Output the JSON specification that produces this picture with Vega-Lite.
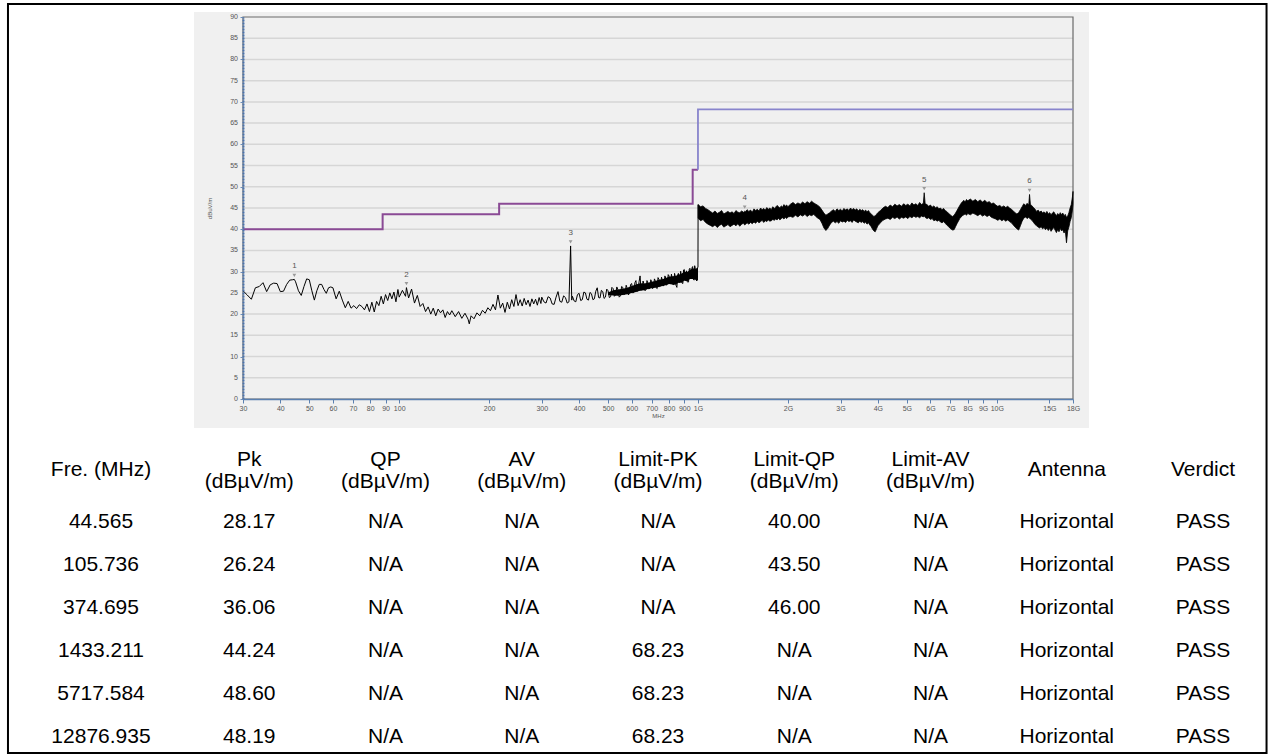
{
  "$schema": "https://vega.github.io/schema/vega-lite/v6.json",
  "background": "white",
  "padding": {"left": 6, "top": 3, "right": 0, "bottom": 0},
  "bounds": "flush",
  "center": true,
  "spacing": 80,
  "config": {"view": {"stroke": null}, "font": "Liberation Sans"},
  "datasets": {
    "grid": [{"v":5},{"v":10},{"v":15},{"v":20},{"v":25},{"v":30},{"v":35},{"v":40},{"v":45},{"v":50},{"v":55},{"v":60},{"v":65},{"v":70},{"v":75},{"v":80},{"v":85}],
    "yticks": [{"v":0},{"v":5},{"v":10},{"v":15},{"v":20},{"v":25},{"v":30},{"v":35},{"v":40},{"v":45},{"v":50},{"v":55},{"v":60},{"v":65},{"v":70},{"v":75},{"v":80},{"v":85},{"v":90}],
    "limqp": [{"f":30,"v":40},{"f":88,"v":43.5},{"f":216,"v":46},{"f":960,"v":54},{"f":1000,"v":54}],
    "limpk": [{"f":1000,"v":54},{"f":18000,"v":68.23}],
    "peaks": [{"id":"1","f":44.565,"v":28.17},{"id":"2","f":105.736,"v":26.24},{"id":"3","f":374.695,"v":36.06},{"id":"4","f":1433.211,"v":44.24},{"id":"5","f":5717.584,"v":48.6},{"id":"6","f":12876.935,"v":48.19}],
    "trace": [
      {"f":30,"v":25.5},{"f":31,"v":24.5},{"f":32,"v":23.5},{"f":33,"v":26.2},{"f":34,"v":26.5},{"f":35,"v":27.4},{"f":36,"v":25.3},{"f":37,"v":26.9},{"f":38,"v":27.3},{"f":39,"v":27.2},
      {"f":40,"v":25.3},{"f":41,"v":25.4},{"f":42,"v":27.0},{"f":43,"v":28.0},{"f":44,"v":28.1},{"f":44.565,"v":28.17},{"f":45,"v":27.6},{"f":46,"v":25.5},{"f":47,"v":24.4},{"f":48,"v":26.5},
      {"f":49,"v":28.3},{"f":50,"v":28.1},{"f":51,"v":25.5},{"f":52,"v":23.3},{"f":53,"v":25.5},{"f":54,"v":27.0},{"f":55,"v":27.0},{"f":56,"v":25.8},{"f":57,"v":24.9},{"f":58,"v":26.2},
      {"f":59,"v":26.4},{"f":60,"v":26.2},{"f":61.5,"v":23.6},{"f":63,"v":25.4},{"f":64.5,"v":23.3},{"f":66,"v":21.5},{"f":67.5,"v":23.0},{"f":69,"v":21.4},{"f":70.5,"v":22.0},{"f":72,"v":21.3},
      {"f":73.5,"v":22.2},{"f":75,"v":21.8},{"f":76.5,"v":21.0},{"f":78,"v":22.4},{"f":79.5,"v":20.6},{"f":81,"v":22.8},{"f":82.5,"v":20.5},{"f":84,"v":23.0},{"f":85.5,"v":22.0},{"f":87,"v":24.2},
      {"f":88.5,"v":22.4},{"f":90,"v":24.6},{"f":91.5,"v":23.2},{"f":93,"v":25.0},{"f":94.5,"v":23.6},{"f":96,"v":25.2},{"f":97.5,"v":22.9},{"f":99,"v":25.8},{"f":100,"v":24.0},{"f":102.5,"v":25.6},
      {"f":105,"v":24.2},{"f":105.736,"v":26.24},{"f":107.5,"v":23.8},{"f":110,"v":25.9},{"f":112.5,"v":22.6},{"f":115,"v":24.4},{"f":117.5,"v":21.8},{"f":120,"v":22.5},{"f":122.5,"v":20.6},{"f":125,"v":21.7},
      {"f":127.5,"v":20.0},{"f":130,"v":21.4},{"f":132.5,"v":19.6},{"f":135,"v":21.2},{"f":137.5,"v":20.3},{"f":140,"v":21.0},{"f":142.5,"v":19.2},{"f":145,"v":20.6},{"f":147.5,"v":19.8},{"f":150,"v":20.8},
      {"f":154,"v":19.4},{"f":158,"v":20.6},{"f":162,"v":19.0},{"f":166,"v":20.2},{"f":170,"v":18.8},{"f":171.6,"v":17.7},{"f":174,"v":19.6},{"f":178,"v":18.9},{"f":182,"v":20.3},{"f":186,"v":19.6},
      {"f":190,"v":20.9},{"f":194,"v":20.2},{"f":198,"v":21.5},{"f":202,"v":20.8},{"f":206,"v":22.3},{"f":210,"v":21.0},{"f":214,"v":24.5},{"f":218,"v":21.4},{"f":222,"v":22.6},{"f":226,"v":20.4},
      {"f":230,"v":22.8},{"f":234,"v":21.2},{"f":238,"v":23.4},{"f":242,"v":21.8},{"f":246,"v":24.6},{"f":250,"v":22.0},{"f":254,"v":23.4},{"f":258,"v":21.9},{"f":262,"v":23.7},{"f":266,"v":22.2},
      {"f":270,"v":23.3},{"f":274,"v":21.8},{"f":278,"v":23.6},{"f":282,"v":22.4},{"f":286,"v":23.5},{"f":290,"v":22.1},{"f":294,"v":23.9},{"f":298,"v":22.5},{"f":300,"v":24.0},{"f":305,"v":22.9},
      {"f":310,"v":22.6},{"f":315,"v":24.1},{"f":320,"v":23.8},{"f":325,"v":22.4},{"f":330,"v":22.3},{"f":335,"v":24.0},{"f":340,"v":25.3},{"f":345,"v":23.0},{"f":350,"v":22.8},{"f":355,"v":24.3},
      {"f":360,"v":23.9},{"f":365,"v":22.6},{"f":370,"v":22.9},{"f":374.695,"v":36.06},{"f":378,"v":23.3},{"f":380,"v":24.2},{"f":385,"v":23.1},{"f":390,"v":22.9},{"f":395,"v":24.6},{"f":400,"v":24.9},
      {"f":405,"v":23.2},{"f":410,"v":23.4},{"f":415,"v":25.2},{"f":420,"v":25.0},{"f":425,"v":23.5},{"f":430,"v":23.3},{"f":435,"v":25.1},{"f":440,"v":24.8},{"f":445,"v":23.4},{"f":450,"v":23.6},
      {"f":455,"v":25.4},{"f":460,"v":26.2},{"f":465,"v":23.9},{"f":470,"v":23.8},{"f":475,"v":25.6},{"f":480,"v":25.3},{"f":485,"v":23.7},{"f":490,"v":24.0},{"f":495,"v":25.9},{"f":500,"v":25.5},
      {"f":505,"v":23.9},{"f":510,"v":24.1},{"f":515,"v":26.3},{"f":520,"v":26.0},{"f":525,"v":24.2},{"f":530,"v":24.5},{"f":535,"v":26.4},{"f":540,"v":25.7},{"f":545,"v":24.0},{"f":550,"v":24.3},
      {"f":555,"v":26.5},{"f":560,"v":26.3},{"f":565,"v":24.6},{"f":570,"v":24.8},{"f":575,"v":26.8},{"f":580,"v":26.0},{"f":585,"v":24.5},{"f":590,"v":25.0},{"f":595,"v":27.0},{"f":600,"v":27.2},
      {"f":605,"v":25.0},{"f":610,"v":25.1},{"f":615,"v":27.4},{"f":620,"v":27.9},{"f":625,"v":25.3},{"f":630,"v":25.6},{"f":635,"v":27.6},{"f":640,"v":29.0},{"f":645,"v":25.6},{"f":650,"v":25.9},
      {"f":655,"v":27.8},{"f":660,"v":27.0},{"f":665,"v":25.5},{"f":670,"v":25.8},{"f":675,"v":27.9},{"f":680,"v":27.3},{"f":685,"v":25.9},{"f":690,"v":26.1},{"f":695,"v":28.1},{"f":700,"v":27.6},
      {"f":705,"v":26.0},{"f":710,"v":26.4},{"f":715,"v":28.3},{"f":720,"v":27.8},{"f":725,"v":26.2},{"f":730,"v":26.0},{"f":735,"v":28.6},{"f":740,"v":28.2},{"f":745,"v":26.5},{"f":750,"v":26.7},
      {"f":755,"v":28.7},{"f":760,"v":28.0},{"f":765,"v":26.6},{"f":770,"v":26.9},{"f":775,"v":29.0},{"f":780,"v":28.5},{"f":785,"v":26.8},{"f":790,"v":27.2},{"f":795,"v":29.3},{"f":800,"v":29.0},
      {"f":805,"v":27.1},{"f":810,"v":27.4},{"f":815,"v":29.4},{"f":820,"v":28.4},{"f":825,"v":26.9},{"f":830,"v":27.0},{"f":835,"v":29.6},{"f":840,"v":28.8},{"f":845,"v":26.7},{"f":850,"v":26.3},
      {"f":855,"v":29.2},{"f":860,"v":29.6},{"f":865,"v":27.4},{"f":870,"v":27.8},{"f":875,"v":30.1},{"f":880,"v":29.0},{"f":885,"v":27.3},{"f":890,"v":27.2},{"f":895,"v":30.4},{"f":900,"v":30.5},
      {"f":905,"v":27.9},{"f":910,"v":28.1},{"f":915,"v":30.2},{"f":920,"v":29.4},{"f":925,"v":27.5},{"f":930,"v":27.6},{"f":935,"v":30.6},{"f":940,"v":30.8},{"f":945,"v":28.3},{"f":950,"v":28.5},
      {"f":955,"v":30.9},{"f":960,"v":31.2},{"f":965,"v":28.2},{"f":970,"v":28.0},{"f":975,"v":31.4},{"f":980,"v":30.6},{"f":985,"v":28.4},{"f":990,"v":27.8},{"f":995,"v":30.9},{"f":1000,"v":31.0},
      {"f":1001,"v":45.8}
    ],
    "band": [
      {"f":500,"hi":25.1,"lo":24.5},{"f":520,"hi":25.6,"lo":24.4},{"f":540,"hi":25.8,"lo":24.3},{"f":560,"hi":26.0,"lo":24.5},{"f":580,"hi":26.2,"lo":24.7},
      {"f":600,"hi":26.6,"lo":25.0},{"f":620,"hi":27.0,"lo":25.2},{"f":640,"hi":27.3,"lo":25.5},{"f":660,"hi":27.2,"lo":25.6},{"f":680,"hi":27.4,"lo":25.9},
      {"f":700,"hi":27.6,"lo":26.1},{"f":720,"hi":27.8,"lo":26.2},{"f":740,"hi":28.1,"lo":26.4},{"f":760,"hi":28.2,"lo":26.6},{"f":780,"hi":28.5,"lo":26.8},
      {"f":800,"hi":28.8,"lo":27.1},{"f":820,"hi":28.9,"lo":27.0},{"f":840,"hi":29.0,"lo":26.9},{"f":860,"hi":29.3,"lo":27.4},{"f":880,"hi":29.5,"lo":27.4},
      {"f":900,"hi":30.0,"lo":27.9},{"f":920,"hi":29.9,"lo":27.7},{"f":940,"hi":30.4,"lo":28.3},{"f":960,"hi":30.8,"lo":28.3},{"f":980,"hi":30.6,"lo":28.1},
      {"f":1000,"hi":31.0,"lo":27.9}
    ],
    "band2": [
      {"f":1001,"hi":45.8,"lo":42.6},{"f":1020,"hi":45.3,"lo":42.0},{"f":1040,"hi":45.5,"lo":42.3},{"f":1060,"hi":44.9,"lo":41.6},{"f":1080,"hi":44.6,"lo":41.2},
      {"f":1100,"hi":44.2,"lo":40.9},{"f":1120,"hi":43.8,"lo":40.6},{"f":1140,"hi":44.3,"lo":41.0},{"f":1160,"hi":43.7,"lo":40.4},{"f":1180,"hi":44.0,"lo":40.9},
      {"f":1200,"hi":44.4,"lo":41.2},{"f":1220,"hi":43.6,"lo":40.5},{"f":1240,"hi":43.9,"lo":40.8},{"f":1260,"hi":44.2,"lo":41.1},{"f":1280,"hi":43.8,"lo":40.6},
      {"f":1300,"hi":44.1,"lo":40.9},{"f":1320,"hi":43.7,"lo":41.2},{"f":1340,"hi":44.4,"lo":40.8},{"f":1360,"hi":44.0,"lo":41.3},{"f":1380,"hi":43.9,"lo":40.7},
      {"f":1400,"hi":44.3,"lo":41.2},{"f":1420,"hi":44.0,"lo":41.4},{"f":1433.211,"hi":44.24,"lo":41.0},{"f":1440,"hi":44.1,"lo":41.1},{"f":1460,"hi":44.6,"lo":41.5},
      {"f":1480,"hi":44.2,"lo":41.2},{"f":1500,"hi":44.5,"lo":41.6},{"f":1520,"hi":44.0,"lo":41.3},{"f":1540,"hi":44.8,"lo":41.7},{"f":1560,"hi":44.4,"lo":41.4},
      {"f":1580,"hi":44.7,"lo":41.9},{"f":1600,"hi":44.3,"lo":41.5},{"f":1620,"hi":45.0,"lo":41.8},{"f":1640,"hi":44.6,"lo":42.1},{"f":1660,"hi":44.9,"lo":41.6},
      {"f":1680,"hi":44.5,"lo":42.0},{"f":1700,"hi":45.1,"lo":41.8},{"f":1720,"hi":44.7,"lo":42.2},{"f":1740,"hi":45.0,"lo":41.9},{"f":1760,"hi":44.6,"lo":42.0},
      {"f":1780,"hi":45.3,"lo":42.3},{"f":1800,"hi":44.9,"lo":42.1},{"f":1820,"hi":45.2,"lo":42.4},{"f":1840,"hi":45.6,"lo":42.2},{"f":1860,"hi":45.3,"lo":42.6},
      {"f":1880,"hi":45.0,"lo":42.2},{"f":1900,"hi":45.5,"lo":42.5},{"f":1920,"hi":45.2,"lo":42.7},{"f":1940,"hi":45.8,"lo":42.4},{"f":1960,"hi":45.4,"lo":42.8},
      {"f":1980,"hi":45.7,"lo":42.5},{"f":2000,"hi":45.3,"lo":42.9},{"f":2040,"hi":45.9,"lo":43.0},{"f":2080,"hi":46.3,"lo":42.8},{"f":2120,"hi":45.8,"lo":43.3},
      {"f":2160,"hi":46.2,"lo":42.9},{"f":2200,"hi":45.9,"lo":43.4},{"f":2240,"hi":46.4,"lo":43.1},{"f":2280,"hi":46.0,"lo":43.5},{"f":2320,"hi":46.5,"lo":43.0},
      {"f":2360,"hi":46.1,"lo":43.4},{"f":2400,"hi":46.6,"lo":43.2},{"f":2440,"hi":46.2,"lo":43.5},{"f":2480,"hi":45.9,"lo":43.0},{"f":2520,"hi":45.6,"lo":42.6},
      {"f":2560,"hi":45.2,"lo":42.3},{"f":2600,"hi":44.5,"lo":41.4},{"f":2640,"hi":43.8,"lo":40.3},{"f":2680,"hi":43.3,"lo":39.7},{"f":2720,"hi":43.6,"lo":40.2},
      {"f":2760,"hi":43.9,"lo":41.0},{"f":2800,"hi":44.3,"lo":41.6},{"f":2840,"hi":44.6,"lo":41.9},{"f":2880,"hi":44.2,"lo":41.5},{"f":2920,"hi":44.8,"lo":41.8},
      {"f":2960,"hi":44.4,"lo":41.4},{"f":3000,"hi":44.7,"lo":42.0},{"f":3040,"hi":44.3,"lo":41.7},{"f":3080,"hi":44.9,"lo":41.9},{"f":3120,"hi":44.5,"lo":41.6},
      {"f":3160,"hi":44.8,"lo":42.1},{"f":3200,"hi":44.4,"lo":41.8},{"f":3240,"hi":45.0,"lo":42.0},{"f":3280,"hi":44.6,"lo":41.6},{"f":3320,"hi":44.9,"lo":42.2},
      {"f":3360,"hi":44.5,"lo":41.9},{"f":3400,"hi":44.8,"lo":41.7},{"f":3440,"hi":44.3,"lo":41.5},{"f":3480,"hi":44.7,"lo":41.9},{"f":3520,"hi":44.4,"lo":41.6},
      {"f":3560,"hi":44.6,"lo":41.8},{"f":3600,"hi":44.2,"lo":41.4},{"f":3640,"hi":44.5,"lo":41.7},{"f":3680,"hi":44.1,"lo":41.2},{"f":3720,"hi":44.4,"lo":41.5},
      {"f":3760,"hi":43.9,"lo":41.0},{"f":3800,"hi":43.6,"lo":40.6},{"f":3840,"hi":43.3,"lo":40.0},{"f":3880,"hi":43.0,"lo":39.6},{"f":3920,"hi":43.2,"lo":39.4},
      {"f":3960,"hi":43.5,"lo":40.1},{"f":4000,"hi":43.9,"lo":40.8},{"f":4080,"hi":44.4,"lo":41.5},{"f":4160,"hi":45.0,"lo":42.1},{"f":4240,"hi":45.4,"lo":42.4},
      {"f":4320,"hi":45.1,"lo":42.6},{"f":4400,"hi":45.7,"lo":42.3},{"f":4480,"hi":45.3,"lo":42.8},{"f":4560,"hi":45.9,"lo":42.5},{"f":4640,"hi":45.5,"lo":42.9},
      {"f":4720,"hi":45.8,"lo":42.4},{"f":4800,"hi":45.4,"lo":42.8},{"f":4880,"hi":46.0,"lo":42.6},{"f":4960,"hi":45.6,"lo":42.9},{"f":5040,"hi":45.9,"lo":42.5},
      {"f":5120,"hi":45.5,"lo":43.0},{"f":5200,"hi":46.2,"lo":42.7},{"f":5280,"hi":45.7,"lo":43.1},{"f":5360,"hi":46.0,"lo":42.8},{"f":5440,"hi":45.6,"lo":43.0},
      {"f":5520,"hi":46.3,"lo":42.7},{"f":5600,"hi":45.8,"lo":43.1},{"f":5680,"hi":46.1,"lo":42.9},{"f":5717.584,"hi":48.6,"lo":43.2},{"f":5760,"hi":46.0,"lo":42.8},
      {"f":5840,"hi":45.8,"lo":42.5},{"f":5920,"hi":45.4,"lo":42.7},{"f":6000,"hi":45.7,"lo":42.3},{"f":6080,"hi":45.2,"lo":42.5},{"f":6160,"hi":45.5,"lo":42.0},
      {"f":6240,"hi":45.0,"lo":42.2},{"f":6320,"hi":45.3,"lo":41.9},{"f":6400,"hi":44.8,"lo":42.1},{"f":6480,"hi":45.0,"lo":41.7},{"f":6560,"hi":44.6,"lo":41.5},
      {"f":6640,"hi":44.9,"lo":41.8},{"f":6720,"hi":44.4,"lo":41.4},{"f":6800,"hi":44.2,"lo":41.0},{"f":6880,"hi":43.8,"lo":40.7},{"f":6960,"hi":43.5,"lo":40.3},
      {"f":7040,"hi":43.2,"lo":40.0},{"f":7120,"hi":43.0,"lo":39.8},{"f":7200,"hi":43.3,"lo":39.9},{"f":7280,"hi":43.8,"lo":40.6},{"f":7360,"hi":44.4,"lo":41.3},
      {"f":7440,"hi":45.0,"lo":41.9},{"f":7520,"hi":45.6,"lo":42.5},{"f":7600,"hi":46.1,"lo":42.9},{"f":7680,"hi":46.5,"lo":43.2},{"f":7760,"hi":46.8,"lo":43.4},
      {"f":7840,"hi":46.4,"lo":43.6},{"f":7920,"hi":47.0,"lo":43.3},{"f":8000,"hi":46.7,"lo":43.7},{"f":8160,"hi":47.1,"lo":43.4},{"f":8320,"hi":46.6,"lo":43.8},
      {"f":8480,"hi":47.0,"lo":43.5},{"f":8640,"hi":46.5,"lo":43.2},{"f":8800,"hi":46.9,"lo":43.6},{"f":8960,"hi":46.4,"lo":43.1},{"f":9120,"hi":46.8,"lo":43.4},
      {"f":9280,"hi":46.3,"lo":43.0},{"f":9440,"hi":46.5,"lo":43.3},{"f":9600,"hi":46.0,"lo":42.8},{"f":9760,"hi":46.2,"lo":42.6},{"f":9920,"hi":45.7,"lo":42.4},
      {"f":10080,"hi":45.4,"lo":42.1},{"f":10240,"hi":45.6,"lo":42.4},{"f":10400,"hi":45.2,"lo":42.0},{"f":10560,"hi":45.5,"lo":42.3},{"f":10720,"hi":45.1,"lo":41.9},
      {"f":10880,"hi":45.4,"lo":42.2},{"f":11040,"hi":45.0,"lo":41.8},{"f":11200,"hi":44.7,"lo":41.5},{"f":11360,"hi":44.3,"lo":41.0},{"f":11520,"hi":43.9,"lo":40.5},
      {"f":11680,"hi":43.6,"lo":40.1},{"f":11840,"hi":43.9,"lo":39.8},{"f":12000,"hi":44.6,"lo":40.8},{"f":12160,"hi":45.3,"lo":41.9},{"f":12320,"hi":46.0,"lo":42.6},
      {"f":12480,"hi":45.6,"lo":42.9},{"f":12640,"hi":46.1,"lo":42.5},{"f":12800,"hi":45.7,"lo":42.8},{"f":12876.935,"hi":48.19,"lo":42.6},{"f":12960,"hi":45.9,"lo":42.4},
      {"f":13120,"hi":45.5,"lo":42.1},{"f":13280,"hi":45.1,"lo":41.6},{"f":13440,"hi":44.7,"lo":41.1},{"f":13600,"hi":44.2,"lo":40.8},{"f":13760,"hi":44.5,"lo":40.5},
      {"f":13920,"hi":44.0,"lo":40.3},{"f":14080,"hi":44.3,"lo":40.6},{"f":14240,"hi":43.8,"lo":40.1},{"f":14400,"hi":44.1,"lo":40.4},{"f":14560,"hi":43.7,"lo":39.9},
      {"f":14720,"hi":44.2,"lo":40.3},{"f":14880,"hi":43.6,"lo":39.7},{"f":15040,"hi":43.9,"lo":40.2},{"f":15200,"hi":43.4,"lo":39.5},{"f":15360,"hi":43.8,"lo":40.0},
      {"f":15520,"hi":44.1,"lo":40.4},{"f":15680,"hi":43.6,"lo":39.8},{"f":15840,"hi":43.2,"lo":39.2},{"f":16000,"hi":43.7,"lo":39.9},{"f":16160,"hi":43.3,"lo":39.4},
      {"f":16320,"hi":43.9,"lo":40.2},{"f":16480,"hi":43.4,"lo":39.6},{"f":16640,"hi":43.8,"lo":39.9},{"f":16800,"hi":43.2,"lo":39.1},{"f":16960,"hi":43.5,"lo":39.7},
      {"f":17120,"hi":42.8,"lo":36.8},{"f":17280,"hi":43.1,"lo":39.6},{"f":17440,"hi":43.9,"lo":40.5},{"f":17600,"hi":45.0,"lo":41.8},{"f":17760,"hi":45.8,"lo":42.7},
      {"f":17920,"hi":47.6,"lo":44.5},{"f":18000,"hi":48.9,"lo":46.0}
    ],
    "header": [
      {"col":"Fre","label":"Fre. (MHz)"},
      {"col":"Pk","label":"Pk\n(dBµV/m)"},
      {"col":"QP","label":"QP\n(dBµV/m)"},
      {"col":"AV","label":"AV\n(dBµV/m)"},
      {"col":"LPK","label":"Limit-PK\n(dBµV/m)"},
      {"col":"LQP","label":"Limit-QP\n(dBµV/m)"},
      {"col":"LAV","label":"Limit-AV\n(dBµV/m)"},
      {"col":"Antenna","label":"Antenna"},
      {"col":"Verdict","label":"Verdict"}
    ],
    "table": [
      {"row":"1","Fre":"44.565","Pk":"28.17","QP":"N/A","AV":"N/A","LPK":"N/A","LQP":"40.00","LAV":"N/A","Antenna":"Horizontal","Verdict":"PASS"},
      {"row":"2","Fre":"105.736","Pk":"26.24","QP":"N/A","AV":"N/A","LPK":"N/A","LQP":"43.50","LAV":"N/A","Antenna":"Horizontal","Verdict":"PASS"},
      {"row":"3","Fre":"374.695","Pk":"36.06","QP":"N/A","AV":"N/A","LPK":"N/A","LQP":"46.00","LAV":"N/A","Antenna":"Horizontal","Verdict":"PASS"},
      {"row":"4","Fre":"1433.211","Pk":"44.24","QP":"N/A","AV":"N/A","LPK":"68.23","LQP":"N/A","LAV":"N/A","Antenna":"Horizontal","Verdict":"PASS"},
      {"row":"5","Fre":"5717.584","Pk":"48.60","QP":"N/A","AV":"N/A","LPK":"68.23","LQP":"N/A","LAV":"N/A","Antenna":"Horizontal","Verdict":"PASS"},
      {"row":"6","Fre":"12876.935","Pk":"48.19","QP":"N/A","AV":"N/A","LPK":"68.23","LQP":"N/A","LAV":"N/A","Antenna":"Horizontal","Verdict":"PASS"}
    ]
  },
  "vconcat": [
    {
      "width": 830,
      "height": 382,
      "layer": [
        {
          "data": {"values": [{"k": 1}]},
          "mark": {"type": "rect", "fill": "#f0f0f0"},
          "encoding": {
            "x": {"datum": 20.57, "type": "quantitative", "scale": {"type": "log", "domain": [30, 18000], "nice": false}},
            "x2": {"datum": 20364},
            "y": {"datum": 91.18, "type": "quantitative", "scale": {"domain": [0, 90], "nice": false, "zero": false}},
            "y2": {"datum": -6.84}
          }
        },
        {
          "data": {"values": [{"k": 1}]},
          "mark": {"type": "rect", "filled": false, "stroke": "#000000", "strokeWidth": 2},
          "encoding": {
            "x": {"datum": 4.903, "type": "quantitative", "scale": {"type": "log", "domain": [30, 18000], "nice": false}},
            "x2": {"datum": 80000},
            "y": {"datum": 93.06, "type": "quantitative", "scale": {"domain": [0, 90], "nice": false, "zero": false}},
            "y2": {"datum": -83.4}
          }
        },
        {
          "data": {"name": "grid"},
          "mark": {"type": "rule", "color": "#d6d6d6", "strokeWidth": 1.5},
          "encoding": {
            "x": {"datum": 30, "type": "quantitative", "scale": {"type": "log", "domain": [30, 18000], "nice": false}},
            "x2": {"datum": 18000},
            "y": {"field": "v", "type": "quantitative", "scale": {"domain": [0, 90], "nice": false, "zero": false}}
          }
        },
        {
          "data": {"values": [{"k": 1}]},
          "mark": {"type": "rect", "filled": false, "stroke": "#6a6a6a", "strokeWidth": 1.2},
          "encoding": {
            "x": {"datum": 30, "type": "quantitative", "scale": {"type": "log", "domain": [30, 18000], "nice": false}},
            "x2": {"datum": 18000},
            "y": {"datum": 0, "type": "quantitative", "scale": {"domain": [0, 90], "nice": false, "zero": false}},
            "y2": {"datum": 90}
          }
        },
        {
          "data": {"name": "yticks"},
          "mark": {"type": "text", "align": "right", "baseline": "middle", "dx": -5, "fontSize": 7, "color": "#555555"},
          "encoding": {
            "x": {"datum": 30, "type": "quantitative", "scale": {"type": "log", "domain": [30, 18000], "nice": false}},
            "y": {"field": "v", "type": "quantitative", "scale": {"domain": [0, 90], "nice": false, "zero": false}},
            "text": {"field": "v", "type": "quantitative"}
          }
        },
        {
          "data": {"name": "limqp"},
          "mark": {"type": "line", "interpolate": "step-after", "color": "#8a4a95", "strokeWidth": 2},
          "encoding": {
            "x": {"field": "f", "type": "quantitative", "scale": {"type": "log", "domain": [30, 18000], "nice": false}},
            "y": {"field": "v", "type": "quantitative", "scale": {"domain": [0, 90], "nice": false, "zero": false}}
          }
        },
        {
          "data": {"name": "limpk"},
          "mark": {"type": "line", "interpolate": "step-before", "color": "#8884cc", "strokeWidth": 1.8},
          "encoding": {
            "x": {"field": "f", "type": "quantitative", "scale": {"type": "log", "domain": [30, 18000], "nice": false}},
            "y": {"field": "v", "type": "quantitative", "scale": {"domain": [0, 90], "nice": false, "zero": false}}
          }
        },
        {
          "data": {"name": "band"},
          "mark": {"type": "area", "color": "#000000", "opacity": 1},
          "encoding": {
            "x": {"field": "f", "type": "quantitative", "scale": {"type": "log", "domain": [30, 18000], "nice": false}},
            "y": {"field": "hi", "type": "quantitative", "scale": {"domain": [0, 90], "nice": false, "zero": false}},
            "y2": {"field": "lo"}
          }
        },
        {
          "data": {"name": "band2"},
          "mark": {"type": "area", "color": "#000000", "opacity": 1, "stroke": "#000000", "strokeWidth": 0.8},
          "encoding": {
            "x": {"field": "f", "type": "quantitative", "scale": {"type": "log", "domain": [30, 18000], "nice": false}},
            "y": {"field": "hi", "type": "quantitative", "scale": {"domain": [0, 90], "nice": false, "zero": false}},
            "y2": {"field": "lo"}
          }
        },
        {
          "data": {"name": "trace"},
          "mark": {"type": "line", "color": "#000000", "strokeWidth": 1},
          "encoding": {
            "x": {"field": "f", "type": "quantitative", "scale": {"type": "log", "domain": [30, 18000], "nice": false},
              "axis": {"values": [30,40,50,60,70,80,90,100,200,300,400,500,600,700,800,900,1000,2000,3000,4000,5000,6000,7000,8000,9000,10000,15000,18000],
                "labelExpr": "datum.value >= 1000 ? (datum.value/1000) + 'G' : datum.value + ''",
                "labelFontSize": 7, "labelColor": "#555555", "labelPadding": 1, "labelOverlap": false, "labelFlush": false, "labelBound": false,
                "tickSize": 4, "tickColor": "#5b80b0", "domainColor": "#5b80b0", "domainWidth": 1.5, "grid": false,
                "title": "MHz", "titleFontSize": 6, "titleFontWeight": "normal", "titleColor": "#555555", "titlePadding": 1, "zindex": 1}},
            "y": {"field": "v", "type": "quantitative", "scale": {"domain": [0, 90], "nice": false, "zero": false},
              "axis": {"values": [0,5,10,15,20,25,30,35,40,45,50,55,60,65,70,75,80,85,90], "labels": false,
                "tickSize": 3, "tickColor": "#6f8fb8", "domainColor": "#4a74b0", "domainWidth": 2, "domainDash": [2, 1], "grid": false,
                "title": "dBuV/m", "titleFontSize": 6, "titleFontWeight": "normal", "titleColor": "#555555", "titlePadding": 27, "zindex": 1}}
          }
        },
        {
          "data": {"name": "peaks"},
          "mark": {"type": "point", "shape": "triangle-down", "filled": true, "size": 14, "color": "#9a9a9a", "opacity": 1},
          "encoding": {
            "x": {"field": "f", "type": "quantitative", "scale": {"type": "log", "domain": [30, 18000], "nice": false}},
            "y": {"field": "v", "type": "quantitative", "scale": {"domain": [0, 90], "nice": false, "zero": false}},
            "yOffset": {"value": -4}
          }
        },
        {
          "data": {"name": "peaks"},
          "mark": {"type": "text", "dy": -13, "fontSize": 8, "color": "#555555"},
          "encoding": {
            "x": {"field": "f", "type": "quantitative", "scale": {"type": "log", "domain": [30, 18000], "nice": false}},
            "y": {"field": "v", "type": "quantitative", "scale": {"domain": [0, 90], "nice": false, "zero": false}},
            "text": {"field": "id"}
          }
        }
      ]
    },
    {
      "width": 1090,
      "height": 258,
      "encoding": {
        "x": {"field": "col", "type": "nominal", "scale": {"type": "point", "domain": ["Fre","Pk","QP","AV","LPK","LQP","LAV","Antenna","Verdict"], "padding": 0}, "axis": null},
        "y": {"field": "row", "type": "nominal", "scale": {"type": "point", "domain": ["H","1","2","3","4","5","6"], "padding": 0}, "axis": null}
      },
      "layer": [
        {
          "data": {"name": "header"},
          "transform": [{"filter": "datum.col != 'Fre' && datum.col != 'Antenna' && datum.col != 'Verdict'"}],
          "mark": {"type": "text", "fontSize": 21, "lineBreak": "\n", "lineHeight": 22, "dy": -19, "color": "#000000", "baseline": "middle"},
          "encoding": {
            "y": {"datum": "H", "type": "nominal", "scale": {"type": "point", "domain": ["H","1","2","3","4","5","6"], "padding": 0}, "axis": null},
            "text": {"field": "label"}
          }
        },
        {
          "data": {"name": "header"},
          "transform": [{"filter": "datum.col == 'Antenna' || datum.col == 'Verdict'"}],
          "mark": {"type": "text", "fontSize": 21, "dy": -9, "color": "#000000", "baseline": "middle"},
          "encoding": {
            "y": {"datum": "H", "type": "nominal", "scale": {"type": "point", "domain": ["H","1","2","3","4","5","6"], "padding": 0}, "axis": null},
            "text": {"field": "label"}
          }
        },
        {
          "data": {"name": "header"},
          "transform": [{"filter": "datum.col == 'Fre'"}],
          "mark": {"type": "text", "fontSize": 21, "dy": -9, "dx": -12, "color": "#000000", "baseline": "middle"},
          "encoding": {
            "y": {"datum": "H", "type": "nominal", "scale": {"type": "point", "domain": ["H","1","2","3","4","5","6"], "padding": 0}, "axis": null},
            "text": {"field": "label"}
          }
        },
        {
          "data": {"name": "table"},
          "transform": [{"fold": ["Fre","Pk","QP","AV","LPK","LQP","LAV","Antenna","Verdict"], "as": ["col", "val"]}, {"filter": "datum.col != 'Fre'"}],
          "mark": {"type": "text", "fontSize": 21, "color": "#000000", "baseline": "middle"},
          "encoding": {"text": {"field": "val"}}
        },
        {
          "data": {"name": "table"},
          "transform": [{"fold": ["Fre","Pk","QP","AV","LPK","LQP","LAV","Antenna","Verdict"], "as": ["col", "val"]}, {"filter": "datum.col == 'Fre'"}],
          "mark": {"type": "text", "fontSize": 21, "dx": -12, "color": "#000000", "baseline": "middle"},
          "encoding": {"text": {"field": "val"}}
        }
      ]
    }
  ]
}
